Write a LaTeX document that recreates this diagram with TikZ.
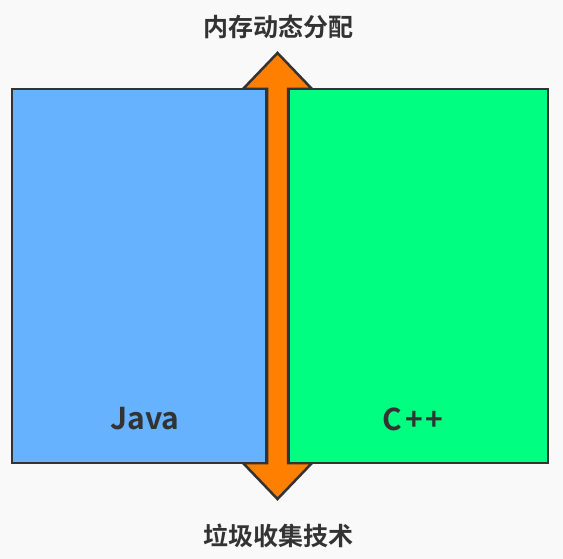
\documentclass[tikz,border=0pt]{standalone}
\usepackage{fontspec}
\usepackage{xcolor}
\usepackage{tikz}
\setmainfont{Noto Sans CJK SC}[BoldFont={* Bold}]
\definecolor{bgcol}{HTML}{F9F9F9}
\definecolor{javablue}{HTML}{66B2FF}
\definecolor{cppgreen}{HTML}{00FF80}
\definecolor{arrorange}{HTML}{FF8000}
\definecolor{edgegray}{HTML}{333333}
\tikzset{
	box/.style={draw=edgegray,line width=2.5pt,inner sep=0pt},
	title/.style={text=edgegray,font=\bfseries\fontsize{25}{29}\selectfont},
	lang/.style={text=edgegray,font=\bfseries\fontsize{30}{34}\selectfont}
}

\begin{document}
\begin{tikzpicture}[x=1pt,y=-1pt]
			% 背景
			\fill[bgcol] (0,0) rectangle (563,559);
			\useasboundingbox (0,0) rectangle (563,559);
			% 双向箭头
			\draw[edgegray,fill=arrorange,line width=2.5pt,line join=miter]
			(277.5,53) -- (312,89) -- (288,89) -- (288,463) -- (312,463)
			-- (277.5,499) -- (243,463) -- (267,463) -- (267,89) -- (243,89) -- cycle;
			% 两个方框
			\node[box,fill=javablue,minimum width=254pt,minimum height=374pt] (java) at (139,276) {};
			\node[box,fill=cppgreen,minimum width=259pt,minimum height=374pt] (cpp) at (418.5,276) {};
			% 写文字
			\node[lang] (javatxt) at (145,419) {Java};
			\node[lang] (cpptxt) at (413,419) {C\kern3pt+\kern3pt+};
			\node[title] (top) at (278,27) {内存动态分配};
			\node[title] (bottom) at (278,536) {垃圾收集技术};
		\end{tikzpicture}
\end{document}
